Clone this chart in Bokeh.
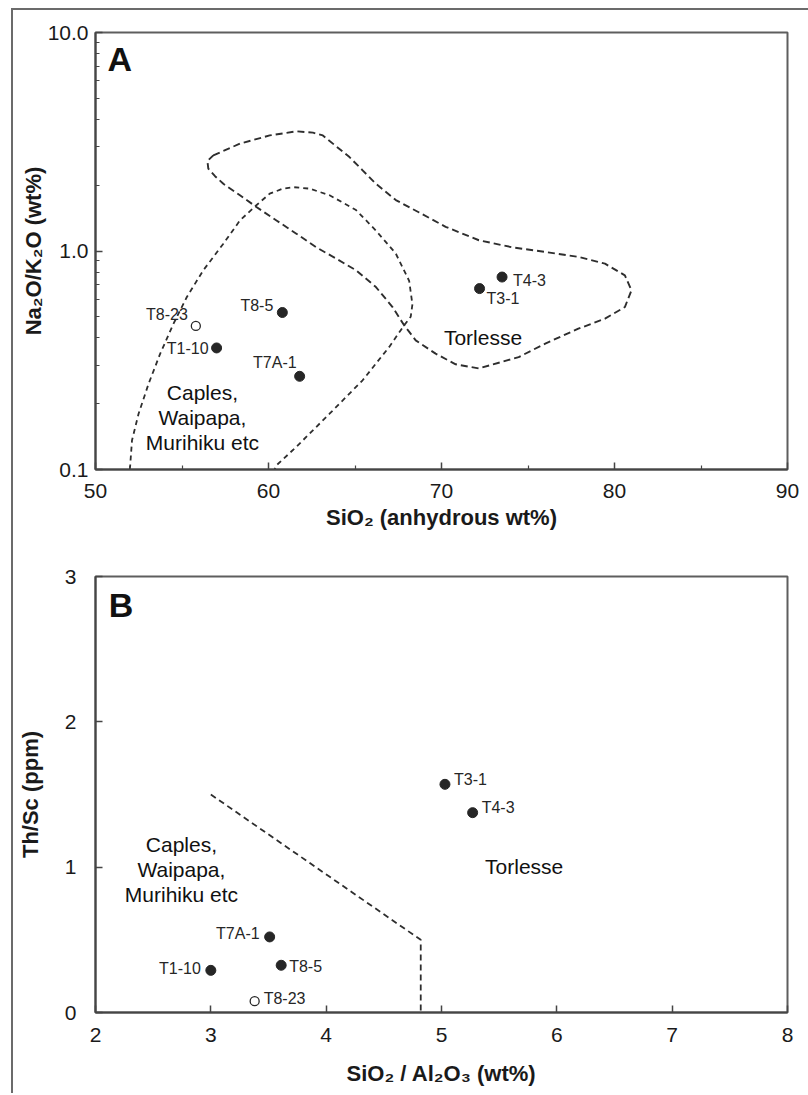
from bokeh.plotting import figure
from bokeh.layouts import column
from bokeh.models import ColumnDataSource, FixedTicker, PrintfTickFormatter
from bokeh.embed import file_html
from bokeh.resources import INLINE
from bokeh.core.properties import value

FONT = "Liberation Sans"
INK = "#262626"
FRAME = "#5e5e5e"
DASH = "#2e2e2e"

# ---------------- data ----------------
samples = ["T1-10", "T3-1", "T4-3", "T7A-1", "T8-5", "T8-23"]
open_symbol = [False, False, False, False, False, True]

# Panel A: SiO2 (anhydrous wt%) vs Na2O/K2O
a_sio2 = [57.0, 72.2, 73.5, 61.8, 60.8, 55.8]
a_na2o_k2o = [0.36, 0.673, 0.76, 0.267, 0.523, 0.454]

# Panel B: SiO2/Al2O3 vs Th/Sc
b_sio2_al2o3 = [3.00, 5.03, 5.27, 3.51, 3.61, 3.38]
b_th_sc = [0.29, 1.57, 1.375, 0.52, 0.325, 0.078]

# Panel A field boundaries
torlesse_sio2 = [56.81, 58.35, 60.07, 61.61, 62.57, 63.14, 64.68, 65.44, 66.21, 67.36,
                 68.71, 70.24, 72.16, 74.08, 76.0, 77.91, 79.45, 80.6, 80.98, 80.6,
                 79.45, 77.91, 76.0, 74.46, 72.16, 70.82, 69.66, 68.51, 67.84, 67.17,
                 66.21, 65.06, 63.91, 62.76, 61.61, 60.46, 59.30, 58.35, 57.39, 56.91,
                 56.52, 56.47]
torlesse_ratio = [2.74, 3.10, 3.38, 3.53, 3.48, 3.38, 2.69, 2.34, 2.03, 1.71,
                  1.50, 1.29, 1.12, 1.04, 0.99, 0.94, 0.875, 0.774, 0.661, 0.554,
                  0.49, 0.441, 0.377, 0.327, 0.29, 0.303, 0.339, 0.39, 0.457, 0.554,
                  0.684, 0.816, 0.923, 1.04, 1.20, 1.38, 1.59, 1.80, 2.03, 2.20,
                  2.38, 2.58]

caples_sio2 = [51.98, 52.0, 52.11, 52.49, 53.07, 53.74, 54.51, 55.28, 56.23, 57.39,
               58.35, 59.30, 60.07, 60.84, 61.41, 62.37, 63.53, 65.06, 66.21, 67.36,
               68.13, 68.32, 68.22, 67.84, 66.98, 65.44, 63.53, 61.61, 60.46, 60.35]
caples_ratio = [0.1, 0.103, 0.136, 0.18, 0.247, 0.339, 0.465, 0.616, 0.816, 1.08,
                1.38, 1.62, 1.83, 1.93, 1.96, 1.93, 1.80, 1.54, 1.24, 0.973,
                0.73, 0.57, 0.50, 0.457, 0.364, 0.256, 0.18, 0.127, 0.1045, 0.1]

# Panel B boundary
b_bound_x = [3.0, 4.82, 4.82]
b_bound_y = [1.5, 0.5, 0.0]

# label placement (screen px offsets of the label centre line, alignment)
a_label_align = ["right", "left", "left", "right", "right", "right"]
a_label_dx = [-8, 7, 11, -3, -9, -8]
a_label_dy = [1, 10, 3, -14, -7, -11]
b_label_align = ["right", "left", "left", "right", "left", "left"]
b_label_dx = [-10, 9, 9, -10, 8, 9]
b_label_dy = [-2, -5, -5, -3, 1, -3]


def style(p):
    p.outline_line_color = FRAME
    p.outline_line_width = 2
    p.background_fill_color = "white"
    p.border_fill_color = "white"
    p.grid.visible = False
    for ax in p.axis:
        ax.axis_line_color = "#454545"
        ax.axis_line_width = 2
        ax.major_tick_in = 7
        ax.major_tick_out = 0
        ax.minor_tick_in = 4
        ax.minor_tick_out = 0
        ax.major_tick_line_color = "#454545"
        ax.major_tick_line_width = 1.5
        ax.minor_tick_line_color = "#454545"
        ax.minor_tick_line_width = 1.2
        ax.major_label_text_font = FONT
        ax.major_label_text_font_size = "21px"
        ax.major_label_text_color = "#1a1a1a"
        ax.axis_label_text_font = FONT
        ax.axis_label_text_font_style = "bold"
        ax.axis_label_text_font_size = "22px"
        ax.axis_label_text_color = "#1a1a1a"


def points(p, xs, ys, align, dx, dy):
    fx = [x for x, o in zip(xs, open_symbol) if not o]
    fy = [y for y, o in zip(ys, open_symbol) if not o]
    ox = [x for x, o in zip(xs, open_symbol) if o]
    oy = [y for y, o in zip(ys, open_symbol) if o]
    p.scatter(fx, fy, size=10, fill_color=INK, line_color=INK, line_width=1)
    p.scatter(ox, oy, size=9, fill_color="white", line_color=INK, line_width=1.3)
    for side in ("left", "right"):
        idx = [i for i, a in enumerate(align) if a == side]
        src = ColumnDataSource(dict(
            x=[xs[i] for i in idx], y=[ys[i] for i in idx],
            t=[samples[i] for i in idx],
            dx=[dx[i] for i in idx], dy=[dy[i] for i in idx]))
        p.text(x="x", y="y", text="t", x_offset="dx", y_offset="dy", source=src,
               text_align=side, text_baseline="middle",
               text_font=value(FONT), text_font_size="16px", text_color=INK)


def note(p, x, y, txt, size="21px", align="center", bold=False):
    p.text(x=[x], y=[y], text=[txt], text_align=align, text_baseline="middle",
           text_font=value(FONT), text_font_size=size, text_color="#111111",
           text_font_style="bold" if bold else "normal", text_line_height=1.09)


# ---------------- Panel A ----------------
pA = figure(width=795, height=528, x_range=(50, 90), y_range=(0.1, 10),
            y_axis_type="log", output_backend="svg", toolbar_location=None,
            min_border_left=82, min_border_right=18, min_border_top=22,
            min_border_bottom=69)
style(pA)
pA.xaxis.ticker = FixedTicker(ticks=[50, 60, 70, 80, 90], minor_ticks=[55, 65, 75, 85])
pA.yaxis.ticker = FixedTicker(ticks=[0.1, 1, 10],
                              minor_ticks=[0.2, 0.3, 0.4, 0.5, 0.6, 0.7, 0.8, 0.9,
                                           2, 3, 4, 5, 6, 7, 8, 9])
pA.yaxis.formatter = PrintfTickFormatter(format="%.1f")
pA.xaxis.axis_label = "SiO\u2082 (anhydrous wt%)"
pA.yaxis.axis_label = "Na\u2082O/K\u2082O (wt%)"
pA.xaxis.major_label_standoff = 14
pA.yaxis.major_label_standoff = 7
pA.xaxis.axis_label_standoff = 4
pA.yaxis.axis_label_standoff = -1

pA.line(torlesse_sio2 + torlesse_sio2[:1], torlesse_ratio + torlesse_ratio[:1],
        line_color=DASH, line_width=1.9, line_dash="7 4")
pA.line(caples_sio2, caples_ratio, line_color=DASH, line_width=1.8, line_dash="5 4")
points(pA, a_sio2, a_na2o_k2o, a_label_align, a_label_dx, a_label_dy)
note(pA, 56.18, 0.1725, "Caples,\nWaipapa,\nMurihiku etc")
note(pA, 72.4, 0.401, "Torlesse")
note(pA, 50.69, 7.54, "A", size="34px", align="left", bold=True)

# ---------------- Panel B ----------------
pB = figure(width=795, height=555, x_range=(2, 8), y_range=(0, 3),
            output_backend="svg", toolbar_location=None,
            min_border_left=79, min_border_right=21, min_border_top=38,
            min_border_bottom=81)
style(pB)
pB.xaxis.ticker = FixedTicker(ticks=[2, 3, 4, 5, 6, 7, 8])
pB.yaxis.ticker = FixedTicker(ticks=[0, 1, 2, 3])
pB.xaxis.axis_label = "SiO\u2082 / Al\u2082O\u2083 (wt%)"
pB.yaxis.axis_label = "Th/Sc (ppm)"
pB.xaxis.major_label_standoff = 15
pB.yaxis.major_label_standoff = 19
pB.xaxis.axis_label_standoff = 16
pB.yaxis.axis_label_standoff = 19

pB.line(b_bound_x, b_bound_y, line_color=DASH, line_width=1.8, line_dash="6 4")
points(pB, b_sio2_al2o3, b_th_sc, b_label_align, b_label_dx, b_label_dy)
note(pB, 2.745, 0.985, "Caples,\nWaipapa,\nMurihiku etc")
note(pB, 5.717, 1.008, "Torlesse")
note(pB, 2.114, 2.805, "B", size="34px", align="left", bold=True)

layout = column(pA, pB, styles={"border-left": "2px solid #6b6b6b",
                                "border-top": "2px solid #6b6b6b",
                                "margin-left": "11px",
                                "margin-top": "8px"})

with open("out.html", "w") as f:
    f.write(file_html(layout, INLINE))
